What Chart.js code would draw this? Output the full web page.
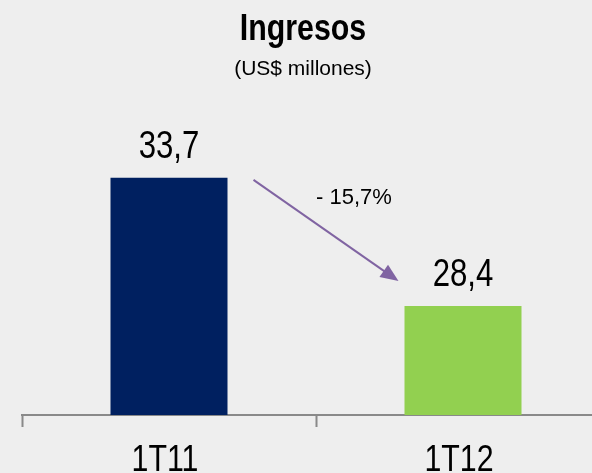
<!DOCTYPE html>
<html>
<head>
<meta charset="utf-8">
<script src="https://cdn.jsdelivr.net/npm/chart.js@4/dist/chart.umd.min.js"></script>
<style>
    html, body { margin: 0; padding: 0; background: #eeeeee; overflow: hidden; }
    #wrap { position: absolute; left: 0; top: 0; width: 620px; height: 500px; }
</style>
</head>
<body>
<div id="wrap"><canvas id="ingresosChart" width="620" height="500"></canvas></div>
<script>
// Data
const categories = ['1T11', '1T12'];
const ingresos = [33.7, 28.4];
const valueLabels = ['33,7', '28,4'];
const barColors = ['#002060', '#92d050'];
const changeLabel = '- 15,7%';
const titleText = 'Ingresos';
const subtitleText = '(US$ millones)';

const SANS = '"Liberation Sans", Arial, sans-serif';
const NARROW_X = 0.82; // no narrow font installed, squeeze horizontally

function narrowText(ctx, text, x, y, font) {
    ctx.save();
    ctx.font = font;
    ctx.textAlign = 'center';
    ctx.textBaseline = 'alphabetic';
    ctx.translate(x, y);
    ctx.scale(NARROW_X, 1);
    ctx.fillText(text, 0, 0);
    ctx.restore();
}

// Title, value labels, category labels and the change arrow
const slideText = {
    id: 'slideText',
    afterDraw(chart) {
        const ctx = chart.ctx;
        const bars = chart.getDatasetMeta(0).data;
        const xScale = chart.scales.x;
        ctx.save();
        ctx.fillStyle = '#000';

        narrowText(ctx, titleText, 303, 40, 'bold 37px ' + SANS);
        ctx.font = '21px ' + SANS;
        ctx.textAlign = 'center';
        ctx.fillText(subtitleText, 303, 75);

        // values above bars
        bars.forEach((bar, i) => {
            narrowText(ctx, valueLabels[i], bar.x, bar.y - 20, '38px ' + SANS);
        });

        // category labels under the axis
        categories.forEach((c, i) => {
            narrowText(ctx, c, xScale.getPixelForValue(i) - 4, 471, '37px ' + SANS);
        });

        // arrow from first bar to second
        const b1 = bars[0], b2 = bars[1];
        const x1 = b1.x + b1.width / 2 + 26, y1 = b1.y + 2;
        const x2 = b2.x - b2.width / 2 - 6, y2 = b2.y - 25;
        const ang = Math.atan2(y2 - y1, x2 - x1);
        const head = 18, half = 7.5;
        ctx.strokeStyle = '#8064a2';
        ctx.fillStyle = '#8064a2';
        ctx.lineWidth = 2;
        ctx.beginPath();
        ctx.moveTo(x1, y1);
        ctx.lineTo(x2 - head * Math.cos(ang) * 0.8, y2 - head * Math.sin(ang) * 0.8);
        ctx.stroke();
        ctx.beginPath();
        ctx.moveTo(x2, y2);
        ctx.lineTo(x2 - head * Math.cos(ang) - half * Math.sin(ang), y2 - head * Math.sin(ang) + half * Math.cos(ang));
        ctx.lineTo(x2 - head * Math.cos(ang) + half * Math.sin(ang), y2 - head * Math.sin(ang) - half * Math.cos(ang));
        ctx.closePath();
        ctx.fill();

        ctx.fillStyle = '#000';
        ctx.textAlign = 'left';
        ctx.font = '22px ' + SANS;
        ctx.fillText(changeLabel, 316, 204);
        ctx.restore();
    }
};

new Chart(document.getElementById('ingresosChart'), {
    type: 'bar',
    data: {
        labels: categories,
        datasets: [{
            data: ingresos,
            backgroundColor: barColors,
            borderWidth: 0,
            categoryPercentage: 1,
            barPercentage: 0.398
        }]
    },
    options: {
        responsive: false,
        animation: false,
        layout: { padding: { left: 22, right: 10, top: 98, bottom: 0 } },
        plugins: {
            legend: { display: false },
            tooltip: { enabled: false }
        },
        scales: {
            x: {
                afterFit(scale) { scale.height = 85; },
                border: { display: true, color: '#898989', width: 2 },
                grid: {
                    display: true,
                    offset: true,
                    drawOnChartArea: false,
                    drawTicks: true,
                    tickLength: 12,
                    tickWidth: 2,
                    tickColor: '#898989'
                },
                ticks: {
                    color: 'rgba(0,0,0,0)', // drawn by slideText
                    font: { family: SANS, size: 36 },
                    maxRotation: 0
                }
            },
            y: {
                display: false,
                min: 23.9,
                max: 37
            }
        }
    },
    plugins: [slideText]
});
</script>
</body>
</html>
